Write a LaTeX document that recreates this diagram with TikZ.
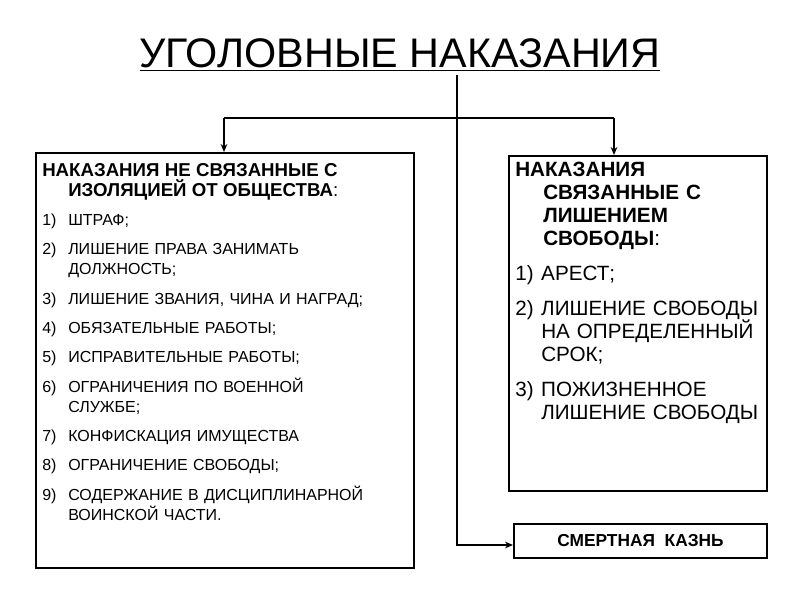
\documentclass[tikz,border=0pt]{standalone}
\usepackage{fontspec}
\setmainfont{Liberation Sans}
\usetikzlibrary{arrows.meta}
\usetikzlibrary{positioning}

\newlength{\pxu}
\setlength{\pxu}{0.75pt}
\newcommand{\punkt}[2]{\par\hangindent=26\pxu\hangafter=1\noindent\makebox[26\pxu][l]{#1)}#2\par}

\tikzset{
  box/.style={draw, line width=1.5pt, anchor=north west, inner sep=0pt},
  boxtext/.style={anchor=north west, inner sep=0pt, align=left},
  link/.style={line width=1.5pt, -{Stealth[length=6pt,width=5pt]}}
}

\begin{document}
\begin{tikzpicture}[x=0.75pt, y=-0.75pt]
  \useasboundingbox (0,0) rectangle (800,600);

  % title
  \node[font=\fontsize{31}{36}\selectfont] (title) at (400,55) {\underline{УГОЛОВНЫЕ НАКАЗАНИЯ}};

  % boxes
  \node[box, minimum width=378\pxu, minimum height=415\pxu] (left) at (35,152) {};
  \node[box, minimum width=258\pxu, minimum height=335\pxu] (right) at (508,155) {};
  \node[box, minimum width=253\pxu, minimum height=34\pxu] (smert) at (513,523) {};
  \node[font=\bfseries\fontsize{13}{15}\selectfont] (smerttext) at (smert.center) {СМЕРТНАЯ\ \ КАЗНЬ};

  % left box text
  \node[boxtext, text width=370\pxu, font=\fontsize{12}{15}\selectfont]
    (ltext) at (42,163) {%
    {\bfseries\fontsize{14}{15}\selectfont\hangindent=26\pxu\hangafter=1\noindent НАКАЗАНИЯ НЕ СВЯЗАННЫЕ С\newline ИЗОЛЯЦИЕЙ ОТ ОБЩЕСТВА\mdseries:\par}
    \parskip=7pt
    \punkt{1}{ШТРАФ;}
    \punkt{2}{ЛИШЕНИЕ ПРАВА ЗАНИМАТЬ\newline ДОЛЖНОСТЬ;}
    \punkt{3}{ЛИШЕНИЕ ЗВАНИЯ, ЧИНА И НАГРАД;}
    \punkt{4}{ОБЯЗАТЕЛЬНЫЕ РАБОТЫ;}
    \punkt{5}{ИСПРАВИТЕЛЬНЫЕ РАБОТЫ;}
    \punkt{6}{ОГРАНИЧЕНИЯ ПО ВОЕННОЙ\newline СЛУЖБЕ;}
    \punkt{7}{КОНФИСКАЦИЯ ИМУЩЕСТВА}
    \punkt{8}{ОГРАНИЧЕНИЕ СВОБОДЫ;}
    \punkt{9}{СОДЕРЖАНИЕ В ДИСЦИПЛИНАРНОЙ\newline ВОИНСКОЙ ЧАСТИ.}};

  % right box text
  \node[boxtext, text width=250\pxu, font=\fontsize{15.5}{17.25}\selectfont]
    (rtext) at (515,162) {%
    {\bfseries\hangindent=28\pxu\hangafter=1\noindent НАКАЗАНИЯ\newline СВЯЗАННЫЕ С\newline ЛИШЕНИЕМ\newline СВОБОДЫ\mdseries:\par}
    \parskip=9pt
    \punkt{1}{АРЕСТ;}
    \punkt{2}{ЛИШЕНИЕ СВОБОДЫ\newline НА ОПРЕДЕЛЕННЫЙ\newline СРОК;}
    \punkt{3}{ПОЖИЗНЕННОЕ\newline ЛИШЕНИЕ СВОБОДЫ}};

  % connectors
  \coordinate (top) at (457,75);
  \coordinate (bend) at (457,545);
  \coordinate (lfork) at (224,118);
  \coordinate (rfork) at (614,118);
  \draw[line width=1.5pt] (lfork) -- (rfork);
  \draw[link] (lfork) -- (lfork |- left.north);
  \draw[link] (rfork) -- (rfork |- right.north);
  \draw[link] (top) -- (bend) -- (smert.west |- bend);
\end{tikzpicture}
\end{document}
